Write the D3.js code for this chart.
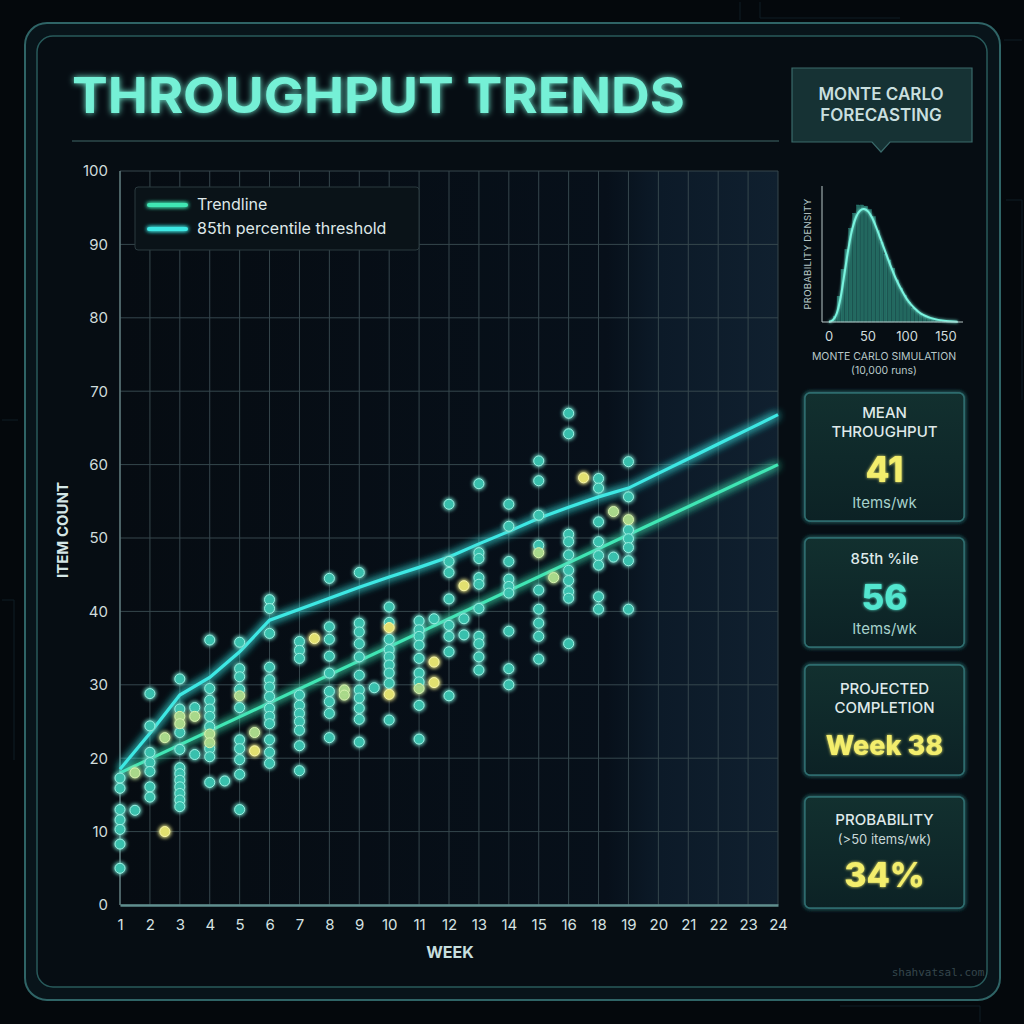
<!DOCTYPE html>
<html><head><meta charset="utf-8">
<script src="https://cdn.jsdelivr.net/npm/d3@7"></script>
<style>
body{margin:0;background:#04080c;}
svg{display:block;font-family:Inter,"Open Sans",sans-serif;}
</style>
</head><body>
<svg id="c" width="1024" height="1024"></svg>
<script>
// ---------- DATA ----------
const weeks = ["1","2","3","4","5","6","7","8","9","10","11","12","13","14","15","16","18","19","20","21","22","23","24"];
const yTicks = [0,10,20,30,40,50,60,70,80,90,100];
// slot positions (1..23) along the week axis
const trendline = [[1,18],[23,60]];
const p85Line = [18.5,23.4,28.6,31,34.5,38.8,40.3,41.8,43.3,44.7,46,47.4,49.2,50.9,52.7,54.2,55.6,56.8,58.8,60.8,62.8,64.8,66.8];
const tealPoints = [
 [1,17.3],[1,15.9],[1,13.0],[1,11.6],[1,10.3],[1,8.3],[1,5.0],
 [1.5,12.9],
 [2,28.8],[2,24.4],[2,20.8],[2,19.4],[2,18.2],[2,16.1],[2,14.7],
 [3,30.8],[3,26.7],[3,23.5],[3,21.2],[3,18.7],[3,17.9],[3,17.0],[3,16.1],[3,15.2],[3,14.3],[3,13.4],
 [3.5,26.9],[3.5,20.5],
 [4,36.1],[4,29.5],[4,27.9],[4,26.7],[4,25.7],[4,24.3],[4,21.3],[4,20.2],[4,16.7],
 [4.5,16.9],
 [5,35.8],[5,32.2],[5,31.1],[5,29.4],[5,26.9],[5,22.5],[5,21.3],[5,19.8],[5,17.8],[5,13.0],
 [6,41.6],[6,40.4],[6,37.0],[6,32.4],[6,30.7],[6,29.7],[6,28.4],[6,26.8],[6,25.7],[6,24.7],[6,22.5],[6,20.8],[6,19.3],
 [7,35.9],[7,34.7],[7,33.6],[7,28.6],[7,27.2],[7,26.1],[7,25.0],[7,23.8],[7,21.7],[7,18.3],
 [8,44.5],[8,37.9],[8,36.2],[8,33.9],[8,31.6],[8,29.1],[8,27.7],[8,26.1],[8,22.8],
 [9,45.3],[9,38.4],[9,37.2],[9,35.6],[9,33.8],[9,31.3],[9,29.3],[9,28.2],[9,26.8],[9,25.3],[9,22.2],
 [9.5,29.6],
 [10,40.6],[10,38.5],[10,36.2],[10,34.8],[10,33.8],[10,32.7],[10,31.6],[10,30.2],[10,25.2],
 [11,38.7],[11,37.5],[11,36.6],[11,35.4],[11,33.6],[11,31.6],[11,30.4],[11,27.2],[11,22.6],
 [11.5,39.0],
 [12,54.6],[12,46.8],[12,45.3],[12,41.7],[12,38.1],[12,36.6],[12,34.5],[12,28.5],
 [12.5,39.0],[12.5,36.8],
 [13,57.4],[13,48.0],[13,47.2],[13,44.6],[13,43.7],[13,40.4],[13,36.6],[13,35.6],[13,33.8],[13,32.0],
 [14,54.6],[14,51.6],[14,46.8],[14,44.4],[14,43.4],[14,42.5],[14,37.3],[14,32.2],[14,30.0],
 [15,60.5],[15,57.8],[15,53.1],[15,49.0],[15,42.9],[15,40.3],[15,38.4],[15,36.6],[15,33.5],
 [16,67.0],[16,64.2],[16,50.5],[16,49.5],[16,47.7],[16,45.6],[16,44.2],[16,42.7],[16,41.8],[16,35.6],
 [17,58.1],[17,56.8],[17,52.2],[17,49.5],[17,47.6],[17,46.3],[17,42.0],[17,40.3],
 [17.5,47.4],
 [18,60.4],[18,55.6],[18,51.1],[18,49.9],[18,48.7],[18,46.9],[18,40.3]
];
const limePoints = [[1.5,18.0],[2.5,22.8],[3,25.7],[3,24.7],[3.5,25.7],[4,23.3],[4,22.1],[5,28.5],[5.5,23.5],[8.5,29.3],[8.5,28.6],[11,29.5],[15,48.0],[15.5,44.6],[17.5,53.6],[18,52.5]];
const yellowPoints = [[2.5,10.0],[5.5,21.0],[7.5,36.3],[10,37.8],[10,28.7],[11.5,33.1],[11.5,30.3],[12.5,43.5],[16.5,58.2]];

// Monte Carlo histogram (bins of 5 items, relative density)
const histBins = [0,5,10,15,20,25,30,35,40,45,50,55,60,65,70,75,80,85,90,95,100,105,110,115,120,125,130,135,140,145,150,155];
const histDensity = [0.01,0.05,0.22,0.45,0.62,0.80,0.93,1.0,1.0,0.99,0.96,0.90,0.78,0.68,0.58,0.53,0.46,0.36,0.29,0.23,0.17,0.12,0.09,0.07,0.05,0.035,0.025,0.02,0.012,0.008,0.005,0.003];
const curveX = [0,5,10,15,20,25,30,35,40,45,50,55,60,65,70,75,80,85,90,95,100,105,110,115,120,130,140,150,160,165];
const curveY = [0,0.01,0.06,0.2,0.42,0.64,0.81,0.91,0.96,0.97,0.95,0.9,0.82,0.73,0.64,0.55,0.46,0.38,0.31,0.25,0.19,0.15,0.115,0.085,0.062,0.033,0.017,0.008,0.003,0.001];
const histTicks = [0,50,100,150];

const legendItems = ["Trendline","85th percentile threshold"];
const stats = [
 {head:["MEAN","THROUGHPUT"], value:"41", unit:"Items/wk"},
 {head:["85th %ile"], value:"56", unit:"Items/wk"},
 {head:["PROJECTED","COMPLETION"], value:"Week 38", unit:""},
 {head:["PROBABILITY"], sub:"(>50 items/wk)", value:"34%", unit:""}
];

// ---------- DRAW ----------
const svg = d3.select("#c");
const defs = svg.append("defs");
function glow(id, sd, n){
  const f = defs.append("filter").attr("id",id).attr("filterUnits","userSpaceOnUse")
    .attr("x",0).attr("y",0).attr("width",1024).attr("height",1024);
  f.append("feGaussianBlur").attr("in","SourceGraphic").attr("stdDeviation",sd).attr("result","b");
  const m = f.append("feMerge");
  for(let i=0;i<n;i++) m.append("feMergeNode").attr("in","b");
  m.append("feMergeNode").attr("in","SourceGraphic");
}
glow("g1",4,2); glow("g2",2,2); glow("g4",3,1); glow("g5",1.5,1);
const pg = defs.append("linearGradient").attr("id","plotbg").attr("x1",0).attr("x2",1).attr("y1",0).attr("y2",0);
[[0,"#060c12"],[0.74,"#07101a"],[0.82,"#0c1a28"],[1,"#10202f"]].forEach(s=>pg.append("stop").attr("offset",s[0]).attr("stop-color",s[1]));
const cg = defs.append("linearGradient").attr("id","cardbg").attr("x1",0).attr("x2",0).attr("y1",0).attr("y2",1);
[[0,"#12302f"],[1,"#0c2225"]].forEach(s=>cg.append("stop").attr("offset",s[0]).attr("stop-color",s[1]));

svg.append("rect").attr("width",1024).attr("height",1024).attr("fill","#04080c");
// faint decorative circuit lines
const deco = svg.append("g").attr("stroke","#0f1c24").attr("fill","none").attr("stroke-width",1);
deco.append("path").attr("d","M740,2 V20 M760,2 V18 H900 M1004,40 H1022 M1006,200 H1022 V400 M2,420 H18 M2,600 H14 V760 M840,1006 H980 V1022");

// outer panels
svg.append("rect").attr("x",25).attr("y",23).attr("width",975).attr("height",977).attr("rx",22)
  .attr("fill","#08141a").attr("stroke","#2f6466").attr("stroke-width",2);
svg.append("rect").attr("x",37).attr("y",36).attr("width",950).attr("height",951).attr("rx",16)
  .attr("fill","#060d13").attr("stroke","#285a5b").attr("stroke-width",1.5);

// title
svg.append("text").attr("x",72).attr("y",113).attr("font-size",50).attr("font-weight",700)
  .attr("fill","#74f0d6").attr("filter","url(#g4)").attr("textLength",613).attr("lengthAdjust","spacingAndGlyphs")
  .text("THROUGHPUT TRENDS");
svg.append("line").attr("x1",72).attr("x2",779).attr("y1",141).attr("y2",141).attr("stroke","#2e4a4c").attr("stroke-width",1.5);

// main plot
const m = {l:120, r:778, t:171, b:905};
const x = d3.scaleLinear().domain([1,23]).range([m.l,m.r]);
const y = d3.scaleLinear().domain([0,100]).range([m.b,m.t]);
svg.append("rect").attr("x",m.l).attr("y",m.t).attr("width",m.r-m.l).attr("height",m.b-m.t).attr("fill","url(#plotbg)");

const grid = svg.append("g");
grid.selectAll(".vg").data(d3.range(1,24)).join("line")
  .attr("x1",d=>x(d)).attr("x2",d=>x(d)).attr("y1",m.t).attr("y2",m.b)
  .attr("stroke","#36474d").attr("stroke-width",1);
grid.selectAll(".hg").data(yTicks).join("line")
  .attr("x1",m.l).attr("x2",m.r).attr("y1",d=>y(d)).attr("y2",d=>y(d))
  .attr("stroke","#36474d").attr("stroke-width",1);
svg.append("line").attr("x1",m.l).attr("x2",m.l).attr("y1",m.t).attr("y2",m.b).attr("stroke","#6a8a8c").attr("stroke-width",1.2);

// axes
const xAxis = d3.axisBottom(x).tickValues(d3.range(1,24)).tickFormat(i=>weeks[i-1]).tickSize(0).tickPadding(14);
const gx = svg.append("g").attr("transform",`translate(0,${m.b})`).call(xAxis);
gx.select(".domain").attr("stroke","#5f8e8e").attr("stroke-width",2.5);
gx.selectAll("text").attr("font-size",15).attr("fill","#d6e2e2").attr("font-family","Inter,sans-serif");
const yAxis = d3.axisLeft(y).tickValues(yTicks).tickSize(0).tickPadding(12);
const gy = svg.append("g").attr("transform",`translate(${m.l},0)`).call(yAxis);
gy.select(".domain").remove();
gy.selectAll("text").attr("font-size",15).attr("fill","#d0dcdc").attr("font-family","Inter,sans-serif");

svg.append("text").attr("transform","translate(68,530) rotate(-90)").attr("text-anchor","middle")
  .attr("font-size",15).attr("font-weight",700).attr("fill","#d4e6e6").text("ITEM COUNT");
svg.append("text").attr("x",450).attr("y",958).attr("text-anchor","middle")
  .attr("font-size",16).attr("font-weight",700).attr("fill","#c6dede").text("WEEK");

// lines
const line = d3.line().x(d=>x(d[0])).y(d=>y(d[1]));
const p85 = p85Line.map((v,i)=>[i+1,v]);
svg.append("path").datum(trendline).attr("d",line).attr("fill","none")
  .attr("stroke","#3fe6b4").attr("stroke-width",3.2).attr("filter","url(#g1)");
svg.append("path").datum(p85).attr("d",line).attr("fill","none")
  .attr("stroke","#3ee8e4").attr("stroke-width",3.2).attr("filter","url(#g1)");

// points
const pts = svg.append("g").attr("filter","url(#g2)");
pts.selectAll(".t").data(tealPoints).join("circle")
  .attr("cx",d=>x(d[0])).attr("cy",d=>y(d[1])).attr("r",5)
  .attr("fill","#36c0ad").attr("fill-opacity",0.9).attr("stroke","#9af0e2").attr("stroke-width",1);
pts.selectAll(".l").data(limePoints).join("circle")
  .attr("cx",d=>x(d[0])).attr("cy",d=>y(d[1])).attr("r",5)
  .attr("fill","#a9d88a").attr("fill-opacity",0.9).attr("stroke","#d8f2b0").attr("stroke-width",1);
pts.selectAll(".y").data(yellowPoints).join("circle")
  .attr("cx",d=>x(d[0])).attr("cy",d=>y(d[1])).attr("r",5)
  .attr("fill","#e2e070").attr("stroke","#f6f4a8").attr("stroke-width",1);

// legend
const lg = svg.append("g");
lg.append("rect").attr("x",135).attr("y",187).attr("width",284).attr("height",63).attr("rx",3)
  .attr("fill","#0a1318").attr("stroke","#2a3a3f").attr("stroke-width",1);
const lcol = ["#3fe6b4","#3ee8e4"];
legendItems.forEach((t,i)=>{
  lg.append("line").attr("x1",149).attr("x2",186).attr("y1",205+i*24).attr("y2",205+i*24)
    .attr("stroke",lcol[i]).attr("stroke-width",4).attr("stroke-linecap","round").attr("filter","url(#g2)");
  lg.append("text").attr("x",197).attr("y",210+i*24).attr("font-size",16).attr("fill","#dfe8e8").text(t);
});

// Monte Carlo header box
svg.append("path").attr("d","M792,68 H972 V142 H890 L881,152 L872,142 H792 Z")
  .attr("fill","#163234").attr("stroke","#3a6a6b").attr("stroke-width",1.2);
["MONTE CARLO","FORECASTING"].forEach((t,i)=>{
  svg.append("text").attr("x",881).attr("y",100+i*21).attr("text-anchor","middle")
    .attr("font-size",17).attr("font-weight",600).attr("fill","#c9dfdf").text(t);
});

// histogram
const hx = d3.scaleLinear().domain([0,150]).range([829,946]);
const hy = d3.scaleLinear().domain([0,1]).range([322,205]);
const hg = svg.append("g");
hg.selectAll("rect").data(histBins).join("rect")
  .attr("x",(d)=>hx(d)+0.3).attr("width",hx(5)-hx(0)-0.8)
  .attr("y",(d,i)=>hy(histDensity[i])).attr("height",(d,i)=>hy(0)-hy(histDensity[i]))
  .attr("fill","#23685f").attr("stroke","#2f8a80").attr("stroke-width",0.4);
hg.append("path").datum(curveX.map((v,i)=>[v,curveY[i]]))
  .attr("d",d3.line().x(d=>hx(d[0])).y(d=>hy(d[1])).curve(d3.curveBasis))
  .attr("fill","none").attr("stroke","#7af4df").attr("stroke-width",2).attr("filter","url(#g5)");
hg.append("line").attr("x1",822).attr("x2",822).attr("y1",186).attr("y2",322).attr("stroke","#b8c8c8").attr("stroke-width",1);
hg.append("line").attr("x1",822).attr("x2",963).attr("y1",322).attr("y2",322).attr("stroke","#b8c8c8").attr("stroke-width",1);
hg.selectAll(".ht").data(histTicks).join("text").attr("x",d=>hx(d)).attr("y",341).attr("text-anchor","middle")
  .attr("font-size",13).attr("fill","#d0dcdc").text(d=>d);
svg.append("text").attr("transform","translate(811,254) rotate(-90)").attr("text-anchor","middle")
  .attr("font-size",9.5).attr("fill","#b5c5c5").attr("letter-spacing",0.3).text("PROBABILITY DENSITY");
svg.append("text").attr("x",884).attr("y",360).attr("text-anchor","middle").attr("font-size",10.5).attr("fill","#b8c8c8").text("MONTE CARLO SIMULATION");
svg.append("text").attr("x",884).attr("y",374).attr("text-anchor","middle").attr("font-size",10.5).attr("fill","#b8c8c8").text("(10,000 runs)");

// stat cards
const cards = [
  {y:393,h:128,heads:[412,431],val:469,valSize:35,valColor:"#f3ee6c",unit:503},
  {y:538,h:109,heads:[558],val:597,valSize:35,valColor:"#52e6cf",unit:629},
  {y:665,h:110,heads:[688,707],val:745,valSize:27,valColor:"#f3ee6c",unit:null},
  {y:797,h:111,heads:[819],sub:839,val:875,valSize:34,valColor:"#f3ee6c",unit:null}
];
stats.forEach((s,i)=>{
  const c = cards[i];
  const g = svg.append("g");
  g.append("rect").attr("x",805).attr("y",c.y).attr("width",159).attr("height",c.h).attr("rx",5)
    .attr("fill","url(#cardbg)").attr("stroke","#2f6e70").attr("stroke-width",1.6).attr("filter","url(#g2)");
  g.append("rect").attr("x",805).attr("y",c.y).attr("width",159).attr("height",c.h).attr("rx",5)
    .attr("fill","url(#cardbg)").attr("stroke","#2f6e70").attr("stroke-width",1.4);
  s.head.forEach((t,j)=>{
    g.append("text").attr("x",884.5).attr("y",c.heads[j]+6).attr("text-anchor","middle")
      .attr("font-size",15).attr("font-weight",500).attr("fill","#dfe9e9").text(t);
  });
  if (s.sub) g.append("text").attr("x",884.5).attr("y",c.sub+5).attr("text-anchor","middle")
      .attr("font-size",13).attr("fill","#c9d8d8").text(s.sub);
  g.append("text").attr("x",884.5).attr("y",c.val+c.valSize*0.36).attr("text-anchor","middle")
    .attr("font-size",c.valSize).attr("font-weight",800).attr("fill",c.valColor).attr("filter","url(#g5)").text(s.value);
  if (s.unit) g.append("text").attr("x",884.5).attr("y",c.unit+5).attr("text-anchor","middle")
    .attr("font-size",15).attr("fill","#a6d2cc").text(s.unit);
});

// watermark
svg.append("text").attr("x",938).attr("y",976).attr("text-anchor","middle").attr("font-size",11)
  .attr("font-family","DejaVu Sans Mono,monospace").attr("fill","#35464c").text("shahvatsal.com");
</script>
</body></html>
